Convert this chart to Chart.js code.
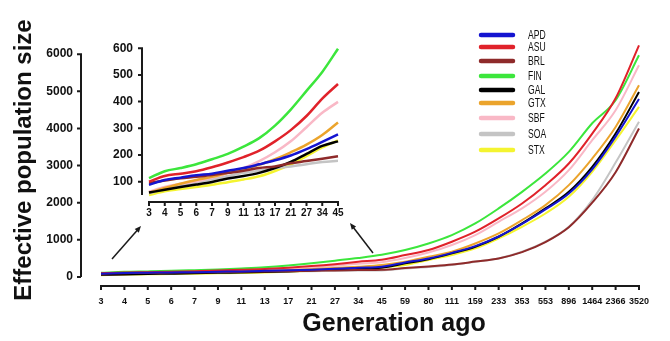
<!DOCTYPE html>
<html>
<head>
<meta charset="utf-8">
<script src="https://cdn.jsdelivr.net/npm/chart.js@4"></script>
<style>
  html, body { margin: 0; padding: 0; background: #fff; }
  #wrap { position: relative; width: 670px; height: 341px; }
  #main { position: absolute; left: 0; top: 0; }
  #inset { position: absolute; left: 90px; top: 25px; }
</style>
</head>
<body>
<div id="wrap">
  <canvas id="main" width="670" height="341"></canvas>
  <canvas id="inset" width="270" height="200"></canvas>
</div>
<script>
// generations (x categories)
const generations = ["3","4","5","6","7","9","11","13","17","21","27","34","45","59","80","111","159","233","353","553","896","1464","2366","3520"];
const insetCount = 13; // inset shows 3..45

const mainYTicks = [0, 1000, 2000, 3000, 4000, 5000, 6000];
const insetYTicks = [100, 200, 300, 400, 500, 600];

// effective population size per population
const APD = [88,106,115,124,130,141,151,165,180,198,222,249,277,390,500,650,830,1090,1430,1820,2250,2900,3780,4790];
const ASU = [100,121,130,139,154,172,192,216,251,293,346,411,466,591,726,950,1219,1577,1980,2473,3056,3862,4810,6237];
const BRL = [95,104,113,118,125,133,141,151,157,169,177,186,195,240,285,335,415,500,670,940,1340,2000,2820,4000];
const FIN = [113,139,151,165,184,204,231,263,310,370,440,511,598,726,903,1129,1442,1846,2293,2786,3369,4140,4758,5968];
const GAL = [59,70,80,89,99,112,121,133,151,174,204,234,251,367,480,636,815,1084,1442,1846,2293,2965,3862,4982];
const GTX = [59,76,92,106,118,133,147,163,184,210,239,275,322,412,547,681,903,1174,1532,1935,2473,3190,4040,5161];
const SBF = [62,80,92,101,115,131,151,177,210,251,304,358,399,510,660,860,1129,1487,1846,2293,2876,3683,4489,5699];
const SOA = [56,74,86,98,109,121,133,141,151,157,165,174,178,230,270,322,412,502,681,950,1353,2070,3080,4180];
const STX = [50,64,72,80,88,98,108,120,140,165,196,228,255,322,457,591,770,1040,1353,1710,2160,2830,3683,4579];

const seriesNames = ["APD","ASU","BRL","FIN","GAL","GTX","SBF","SOA","STX"];
const seriesData = [APD, ASU, BRL, FIN, GAL, GTX, SBF, SOA, STX];
const seriesColors = ["#1414d0","#e0222a","#8e2a2a","#3ce63c","#000000","#eba42c","#f9b8c6","#c4c4c4","#f4f430"];

const FONT = "'Liberation Sans', Arial, sans-serif";
const INK = "#1a1a1a";

// Prism-like detached axes: y line left of the plot, x line below it
function detachedAxes(cfg) {
  return {
    id: "detachedAxes",
    afterDraw(chart) {
      const { ctx, chartArea } = chart;
      const xs = chart.scales.x, ys = chart.scales.y;
      ctx.save();
      ctx.strokeStyle = INK;
      ctx.lineWidth = cfg.lineWidth;
      // y axis
      const ax = chartArea.left - cfg.yGap;
      const yTop = ys.getPixelForValue(cfg.yTicks[cfg.yTicks.length - 1]);
      const yBot = cfg.yBottom != null ? ys.getPixelForValue(cfg.yBottom) : chartArea.bottom;
      ctx.beginPath();
      ctx.moveTo(ax, yTop - 1);
      ctx.lineTo(ax, yBot);
      cfg.yTicks.forEach((v) => {
        const py = ys.getPixelForValue(v);
        ctx.moveTo(ax, py);
        ctx.lineTo(ax - cfg.tick, py);
      });
      ctx.stroke();
      // x axis
      const ay = chartArea.bottom + cfg.xGap;
      const n = chart.data.labels.length;
      ctx.beginPath();
      ctx.moveTo(xs.getPixelForValue(0) - 1, ay);
      ctx.lineTo(xs.getPixelForValue(n - 1) + 1, ay);
      for (let i = 0; i < n; i++) {
        const px = xs.getPixelForValue(i);
        ctx.moveTo(px, ay);
        ctx.lineTo(px, ay + cfg.tick);
      }
      ctx.stroke();
      ctx.restore();
    },
  };
}

const legendAndNotes = {
  id: "legendAndNotes",
  afterDraw(chart) {
    const ctx = chart.ctx;
    ctx.save();
    // legend
    const rows = [35, 47, 61, 76, 90, 103, 118, 134, 150];
    seriesNames.forEach((name, i) => {
      const y = rows[i];
      ctx.strokeStyle = seriesColors[i];
      ctx.lineWidth = 4.5;
      ctx.lineCap = "round";
      ctx.beginPath();
      ctx.moveTo(481, y);
      ctx.lineTo(513, y);
      ctx.stroke();
      // condensed label text
      ctx.save();
      ctx.translate(528, y + 0.5);
      ctx.scale(0.66, 1);
      ctx.fillStyle = "#111";
      ctx.font = "13px " + FONT;
      ctx.textBaseline = "middle";
      ctx.textAlign = "left";
      ctx.fillText(name, 0, 0);
      ctx.restore();
    });
    // x title
    ctx.fillStyle = "#111";
    ctx.font = "bold 25px " + FONT;
    ctx.textAlign = "center";
    ctx.textBaseline = "middle";
    ctx.fillText("Generation ago", 394, 324);
    // arrows pointing to the inset
    const arrows = [[112, 259, 141, 226], [373, 253, 350, 223]];
    ctx.strokeStyle = INK;
    ctx.fillStyle = INK;
    ctx.lineWidth = 1.5;
    ctx.lineCap = "butt";
    arrows.forEach(([x1, y1, x2, y2]) => {
      const a = Math.atan2(y2 - y1, x2 - x1);
      ctx.beginPath();
      ctx.moveTo(x1, y1);
      ctx.lineTo(x2 - 4 * Math.cos(a), y2 - 4 * Math.sin(a));
      ctx.stroke();
      ctx.beginPath();
      ctx.moveTo(x2, y2);
      ctx.lineTo(x2 - 7 * Math.cos(a - 0.4), y2 - 7 * Math.sin(a - 0.4));
      ctx.lineTo(x2 - 7 * Math.cos(a + 0.4), y2 - 7 * Math.sin(a + 0.4));
      ctx.closePath();
      ctx.fill();
    });
    ctx.restore();
  },
};

function makeDatasets(count, width) {
  return seriesNames.map((name, i) => ({
    label: name,
    data: seriesData[i].slice(0, count),
    borderColor: seriesColors[i],
    backgroundColor: seriesColors[i],
    borderWidth: width,
    pointRadius: 0,
    cubicInterpolationMode: "monotone",
    fill: false,
    clip: false,
  }));
}

new Chart(document.getElementById("main").getContext("2d"), {
  type: "line",
  data: { labels: generations, datasets: makeDatasets(generations.length, 2) },
  options: {
    responsive: false,
    animation: false,
    layout: { padding: { top: 43, right: 31, left: 0, bottom: 0 } },
    plugins: { legend: { display: false }, tooltip: { enabled: false } },
    scales: {
      x: {
        type: "category",
        offset: false,
        grid: { display: false, drawTicks: false },
        border: { display: false },
        ticks: { autoSkip: false, maxRotation: 0, padding: 19, color: "#111",
                 font: { family: FONT, size: 9, weight: "bold" } },
        afterFit(s) { s.height = 64; },
      },
      y: {
        min: 0,
        max: 6300,
        grid: { display: false, drawTicks: false },
        border: { display: false },
        ticks: { padding: 28, color: "#111", font: { family: FONT, size: 12, weight: "bold" },
                 callback: (v) => String(v) },
        afterBuildTicks(s) { s.ticks = mainYTicks.map((v) => ({ value: v })); },
        afterFit(s) { s.width = 101; },
        title: { display: true, text: "Effective population size", color: "#111",
                 font: { family: FONT, size: 24, weight: "bold" }, padding: { top: 10, bottom: 0 } },
      },
    },
  },
  plugins: [detachedAxes({ yGap: 20, xGap: 9, tick: 4, lineWidth: 2, yTicks: mainYTicks, yBottom: 0 }), legendAndNotes],
});

new Chart(document.getElementById("inset").getContext("2d"), {
  type: "line",
  data: { labels: generations.slice(0, insetCount), datasets: makeDatasets(insetCount, 2.5) },
  options: {
    responsive: false,
    animation: false,
    layout: { padding: { top: 15, right: 22, left: 0, bottom: 0 } },
    plugins: { legend: { display: false }, tooltip: { enabled: false } },
    scales: {
      x: {
        type: "category",
        offset: false,
        grid: { display: false, drawTicks: false },
        border: { display: false },
        ticks: { autoSkip: false, maxRotation: 0, padding: 12, color: "#111",
                 font: { family: FONT, size: 10, weight: "bold" } },
        afterFit(s) { s.height = 30; },
      },
      y: {
        min: 50,
        max: 600,
        grid: { display: false, drawTicks: false },
        border: { display: false },
        ticks: { padding: 16, color: "#111", font: { family: FONT, size: 12, weight: "bold" },
                 callback: (v) => String(v) },
        afterBuildTicks(s) { s.ticks = insetYTicks.map((v) => ({ value: v })); },
        afterFit(s) { s.width = 59; },
      },
    },
  },
  plugins: [detachedAxes({ yGap: 7, xGap: 7, tick: 4, lineWidth: 2, yTicks: insetYTicks })],
});
</script>
</body>
</html>
